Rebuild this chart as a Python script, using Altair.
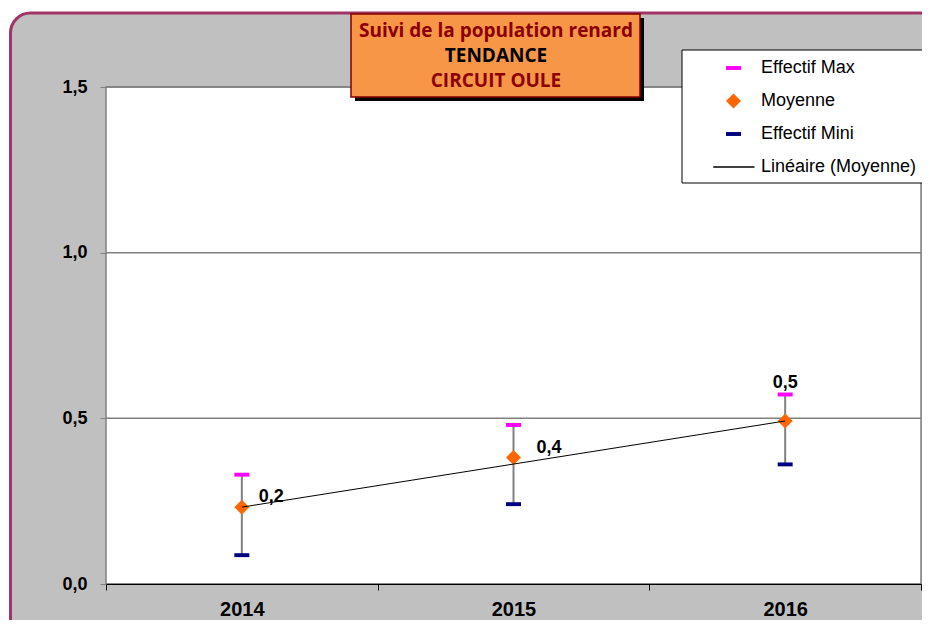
import altair as alt
import pandas as pd

# ---------------- data ----------------
years = ["2014", "2015", "2016"]
moyenne = [0.232, 0.382, 0.492]
effectif_max = [0.330, 0.480, 0.572]
effectif_mini = [0.087, 0.241, 0.361]
value_labels = ["0,2", "0,4", "0,5"]
y_ticks = [0.0, 0.5, 1.0, 1.5]
title_lines = ["Suivi de la population renard", "TENDANCE", "CIRCUIT OULE"]
title_colors = ["#8B0000", "#000000", "#8B0000"]
series = ["Effectif Max", "Moyenne", "Effectif Mini", "Linéaire (Moyenne)"]
series_colors = ["#FF00FF", "#FF6600", "#000080", "#000000"]

DASH = "M-1,-0.26H1V0.26H-1Z"
DIAMOND = "M0,-1L1,0L0,1L-1,0Z"
LINE = "M-2.7,-0.09H2.8V0.09H-2.7Z"
series_shapes = [DASH, DIAMOND, DASH, LINE]

W, H = 815, 497
FONT = "Liberation Sans"

wide = pd.DataFrame({
    "year": years,
    "moyenne": moyenne,
    "emax": effectif_max,
    "emin": effectif_mini,
    "label": value_labels,
})
long = pd.DataFrame({
    "year": years * 3,
    "series": ["Effectif Max"] * 3 + ["Moyenne"] * 3 + ["Effectif Mini"] * 3,
    "value": effectif_max + moyenne + effectif_mini,
})
grid_df = pd.DataFrame({"v": y_ticks})
one = pd.DataFrame({"a": [0]})
title_df = pd.DataFrame({"line": title_lines, "color": title_colors, "i": [0, 1, 2]})

xscale = alt.Scale(type="band", paddingInner=0, paddingOuter=0, domain=years)
yscale = alt.Scale(domain=[0, 1.5], nice=False, zero=True)

x_axis = alt.Axis(
    title=None, labelAngle=0, tickBand="extent", domainColor="black", domainWidth=1,
    tickColor="black", tickSize=6, labelPadding=9, labelFont=FONT,
    labelFontWeight="bold", labelFontSize=20, labelColor="black", zindex=1,
)
y_axis = alt.Axis(
    title=None, values=y_ticks, grid=False, domain=False,
    labelExpr="replace(format(datum.value, '.1f'), '.', ',')",
    tickColor="#808080", tickSize=6, labelPadding=13, labelFont=FONT,
    labelFontWeight="bold", labelFontSize=18, labelColor="black", zindex=1,
)

X = alt.X("year:N", scale=xscale, axis=x_axis)

# background panel with rounded border
bg = alt.Chart(one).mark_rect(
    fill="#C0C0C0", stroke="#A03464", strokeWidth=3, cornerRadius=20
).encode(x=alt.value(-95.5), x2=alt.value(W + 60), y=alt.value(-74), y2=alt.value(H + 80))

plotbg = alt.Chart(one).mark_rect(
    fill="white", stroke="#808080", strokeWidth=1.5
).encode(x=alt.value(0), x2=alt.value(W), y=alt.value(0), y2=alt.value(H))

grid = alt.Chart(grid_df).mark_rule(color="#808080", strokeWidth=1.5).encode(
    y=alt.Y("v:Q", scale=yscale, axis=y_axis)
)

errbars = alt.Chart(wide).mark_rule(color="#808080", strokeWidth=2).encode(
    x=X, y=alt.Y("emin:Q", scale=yscale), y2="emax:Q"
)

legend = alt.Legend(
    title=None, orient="none", legendX=618.5, legendY=-28, symbolSize=225,
    labelFont=FONT, labelFontSize=18, labelColor="black", rowPadding=15,
    labelOffset=18.5, padding=0, symbolOpacity=1, symbolStrokeWidth=0,
)

points = alt.Chart(long).mark_point(filled=True, opacity=1, size=225, strokeWidth=0).encode(
    x=X,
    y=alt.Y("value:Q", scale=yscale),
    color=alt.Color("series:N", scale=alt.Scale(domain=series, range=series_colors), legend=legend),
    shape=alt.Shape("series:N", scale=alt.Scale(domain=series, range=series_shapes), legend=legend),
)

trend = alt.Chart(wide).transform_calculate(
    yr="toNumber(datum.year)"
).transform_regression("moyenne", "yr").transform_calculate(
    year="'' + round(datum.yr)"
).mark_line(color="black", strokeWidth=1).encode(
    x=alt.X("year:N", scale=xscale), y=alt.Y("moyenne:Q", scale=yscale)
)

label_offsets = {"2014": (17, -10, "left"), "2015": (23, -9, "left"), "2016": (0, -38, "center")}
label_layers = []
for yv, (ddx, ddy, al) in label_offsets.items():
    label_layers.append(
        alt.Chart(wide).transform_filter(f"datum.year == '{yv}'").mark_text(
            align=al, baseline="middle", dx=ddx, dy=ddy, font=FONT, fontWeight="bold",
            fontSize=18, color="black"
        ).encode(x=alt.X("year:N", scale=xscale), y=alt.Y("moyenne:Q", scale=yscale), text="label:N")
    )

# title box
shadow = alt.Chart(one).mark_rect(fill="black").encode(
    x=alt.value(249), x2=alt.value(538), y=alt.value(-69), y2=alt.value(14)
)
tbox = alt.Chart(one).mark_rect(fill="#F79646", stroke="#800000", strokeWidth=1.5).encode(
    x=alt.value(245), x2=alt.value(534), y=alt.value(-73), y2=alt.value(10)
)
title_y = [-56, -31, -6]
title_layers = []
for i in range(3):
    title_layers.append(
        alt.Chart(title_df).transform_filter(f"datum.i == {i}").mark_text(
            align="center", baseline="middle", font="Open Sans", fontWeight="bold",
            fontSize=19, color=title_colors[i]
        ).encode(x=alt.value(390), y=alt.value(title_y[i]), text="line:N")
    )

# legend box
lbox = alt.Chart(one).mark_rect(fill="white", stroke="black", strokeWidth=1).encode(
    x=alt.value(576), x2=alt.value(W + 60), y=alt.value(-37), y2=alt.value(96)
)

chart = alt.layer(
    bg, plotbg, grid, errbars, points, trend, *label_layers, shadow, tbox, *title_layers, lbox
).properties(
    width=W, height=H,
    autosize=alt.AutoSizeParams(type="none"),
    padding={"left": 98, "top": 79, "right": 1, "bottom": 36},
).configure(background="white").configure_view(stroke=None)

chart.save("out.html", embed_options={"renderer": "svg", "actions": False})
